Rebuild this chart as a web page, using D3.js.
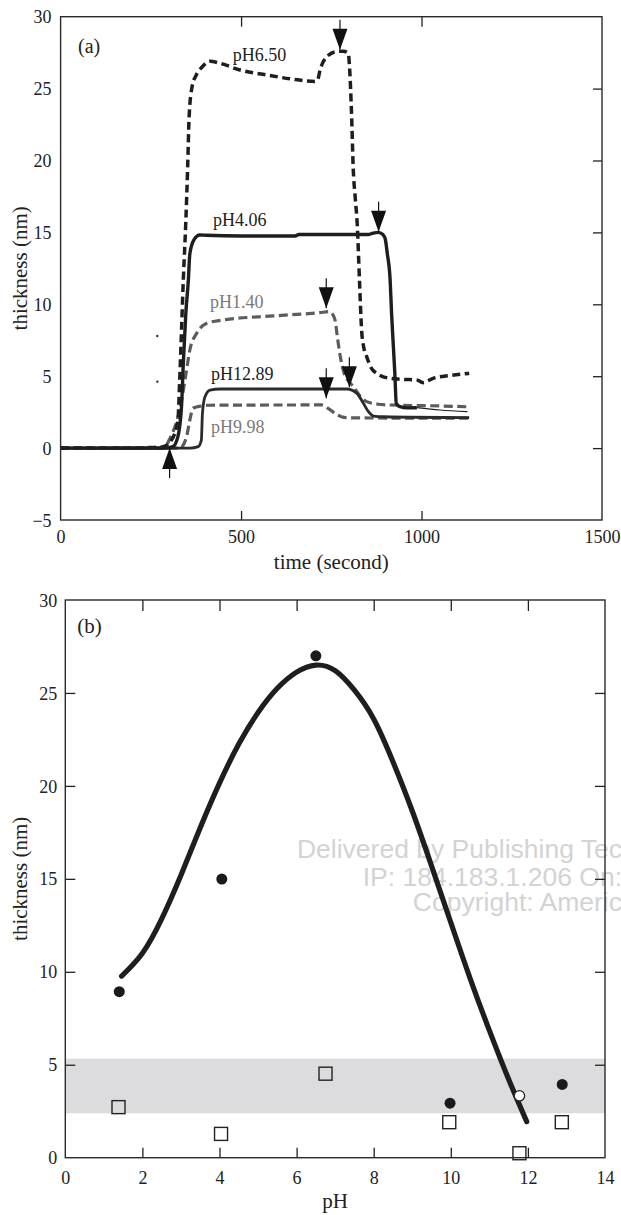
<!DOCTYPE html>
<html>
<head>
<meta charset="utf-8">
<script src="https://cdn.jsdelivr.net/npm/d3@7"></script>
<style>
  html, body { margin: 0; padding: 0; background: #fff; }
  svg { display: block; }
  text { font-family: "Liberation Serif", "Times New Roman", serif; }
</style>
</head>
<body>
<svg id="chart" width="621" height="1215"></svg>
<script>
// ---------- Panel (a): adsorbed layer thickness vs. time ----------
const timeTicks = [0, 500, 1000, 1500];
const thicknessTicksA = [-5, 0, 5, 10, 15, 20, 25, 30];

// [time (s), thickness (nm)]
const tracePH650 = [[0,0],[150,0],[260,0.05],[284,0.1],[307,0.56],[325,1.95],[330,4.74],[335,8.2],[340,11.7],
  [347,15.8],[352,19.5],[356,23.0],[364,25.1],[375,25.9],[392,26.5],[414,26.9],[442,26.76],[497,26.29],
  [571,25.95],[645,25.65],[705,25.5],[712,25.6],[719,26.3],[737,27.2],[764,27.57],[783,27.6],[797,27.45],
  [801,26.3],[806,23.3],[811,19.3],[816,17.5],[822,15.5],[828,11.7],[834,8.2],[840,7.0],[848,6.36],
  [860,5.6],[876,5.2],[913,4.85],[950,4.78],[987,4.74],[1004,4.55],[1032,4.85],[1080,5.05],[1132,5.2]];

const tracePH406 = [[0,0],[290,0],[311,0.1],[325,0.8],[335,2.9],[340,5.9],[347,9.4],[354,11.7],[358,13.5],
  [369,14.47],[386,14.82],[403,14.8],[500,14.75],[650,14.75],[660,14.85],[852,14.85],[866,14.95],[880,15.0],
  [893,14.85],[899,14.59],[905,13.55],[913,11.69],[917,9.37],[922,7.05],[926,5.2],[930,3.11],[940,2.88],
  [960,2.8],[987,2.81]];
const tracePH406Tail = [[987,2.81],[1051,2.65],[1127,2.53]];

const tracePH140 = [[0,0],[270,0],[289,0.1],[303,0.68],[330,2.65],[349,5.43],[358,6.82],[377,7.98],[405,8.68],
  [451,8.91],[589,9.19],[718,9.42],[745,9.49],[759,9.03],[768,7.52],[775,6.36],[785,5.25],[800,4.6],
  [811,4.27],[830,3.6],[848,3.23],[880,3.05],[912,3.0],[1051,2.93],[1132,2.87]];

const tracePH1289 = [[0,0],[359,0],[381,0.1],[390,0.56],[393,2.42],[400,3.57],[414,4.04],[442,4.11],
  [793,4.11],[821,3.81],[839,3.11],[853,2.53],[867,2.23],[894,2.18],[1132,2.12]];

const tracePH998 = [[0,0],[330,0],[349,0.8],[358,1.95],[367,2.77],[391,2.93],[414,2.98],[723,3.0],
  [741,2.77],[760,2.42],[778,2.18],[800,2.1],[1132,2.08]];

// curve labels: text and anchor in data units (time, thickness)
const traceLabelText  = ["pH6.50", "pH4.06", "pH1.40", "pH12.89", "pH9.98"];
const traceLabelTime  = [477, 422, 414, 417, 417];
const traceLabelValue = [26.94, 15.45, 9.72, 4.74, 1.03];

// injection / rinse arrows: tip position in data units
const arrowTime  = [774, 881, 736, 736, 800, 302];
const arrowValue = [27.7, 15.05, 9.72, 3.46, 4.23, 0.0];
const arrowDir   = ["down", "down", "down", "down", "down", "up"];

// isolated specks in the trace area
const speckTime  = [268, 268];
const speckValue = [7.8, 4.62];

// ---------- Panel (b): thickness vs. pH ----------
const pHTicks = [0, 2, 4, 6, 8, 10, 12, 14];
const thicknessTicksB = [0, 5, 10, 15, 20, 25, 30];

const adsorbedPH    = [1.40, 4.06, 6.50, 9.98, 12.89];
const adsorbedThick = [8.93, 14.99, 27.0, 2.93, 3.94];

const openCirclePH    = [11.78];
const openCircleThick = [3.33];

const rinsedPH    = [1.38, 4.04, 6.75, 9.96, 11.78, 12.88];
const rinsedThick = [2.72, 1.28, 4.52, 1.91, 0.24, 1.91];

const bandRange = [2.39, 5.33];

const fitPH    = [1.46, 2.0, 2.5, 3.0, 3.5, 4.0, 4.5, 5.0, 5.5, 6.0, 6.5, 7.0, 7.5, 8.0, 8.5, 9.0, 9.5,
  10.0, 10.5, 11.0, 11.5, 11.97];
const fitThick = [9.77, 11.0, 12.85, 15.2, 17.75, 20.15, 22.25, 23.95, 25.25, 26.12, 26.5, 26.2, 25.15, 23.6,
  21.3, 18.65, 15.7, 12.65, 9.65, 6.85, 4.22, 1.94];

const watermarkLines = ["Delivered by Publishing Tec", "IP: 184.183.1.206 On:", "Copyright: Americ"];

// ================= drawing =================
const svg = d3.select("#chart");
const INK = "#1e1e1e";
const GREY = "#5c5c5c";

// ---- panel (a) ----
const xA = d3.scaleLinear().domain([0, 1500]).range([60.6, 602]);
const yA = d3.scaleLinear().domain([-5, 30]).range([520, 16.7]);
const gA = svg.append("g");

function styleAxis(g, size) {
  g.select(".domain").remove();
  g.selectAll(".tick line").attr("stroke", "#222").attr("stroke-width", 1.3);
  g.selectAll(".tick text").attr("fill", "#222").attr("font-size", size)
    .attr("font-family", "Liberation Serif, serif");
}

// bottom axis with labels, inward ticks only at interior values
const axBA = gA.append("g").attr("transform", `translate(0,${yA(-5)})`)
  .call(d3.axisBottom(xA).tickValues(timeTicks).tickSizeInner(-9).tickSizeOuter(0).tickPadding(10)
    .tickFormat(d3.format("d")));
styleAxis(axBA, 18);
axBA.selectAll(".tick line").filter(d => d === 0 || d === 1500).remove();

const axTA = gA.append("g").attr("transform", `translate(0,${yA(30)})`)
  .call(d3.axisTop(xA).tickValues(timeTicks.filter(d => d > 0 && d < 1500)).tickSizeInner(-10).tickSizeOuter(0).tickFormat(""));
styleAxis(axTA, 18);

const axLA = gA.append("g").attr("transform", `translate(${xA(0)},0)`)
  .call(d3.axisLeft(yA).tickValues(thicknessTicksA).tickSize(0).tickPadding(9));
styleAxis(axLA, 18);
axLA.selectAll(".tick text").attr("dy", "0.34em");

const axRA = gA.append("g").attr("transform", `translate(${xA(1500)},0)`)
  .call(d3.axisRight(yA).tickValues(thicknessTicksA.filter(d => d > -5 && d < 30)).tickSizeInner(-9).tickSizeOuter(0).tickFormat(""));
styleAxis(axRA, 18);

gA.append("rect").attr("x", xA(0)).attr("y", yA(30))
  .attr("width", xA(1500) - xA(0)).attr("height", yA(-5) - yA(30))
  .attr("fill", "none").attr("stroke", "#2a2a2a").attr("stroke-width", 1.4);

const lineA = d3.line().x(d => xA(d[0])).y(d => yA(d[1])).curve(d3.curveMonotoneX);

const traces = [
  { data: tracePH998,  stroke: GREY,   width: 3.2, dash: "9,4.5" },
  { data: tracePH140,  stroke: GREY,   width: 3.2, dash: "9,4.5" },
  { data: tracePH1289, stroke: "#2b2b2b", width: 2.8, dash: null },
  { data: tracePH406,  stroke: INK,    width: 3.4, dash: null },
  { data: tracePH406Tail, stroke: INK, width: 1.2, dash: null },
  { data: tracePH650,  stroke: INK,    width: 3.5, dash: "8,4.5" }
];
traces.forEach(s => {
  gA.append("path").attr("d", lineA(s.data))
    .attr("fill", "none").attr("stroke", s.stroke).attr("stroke-width", s.width)
    .attr("stroke-dasharray", s.dash).attr("stroke-linejoin", "round");
});

gA.selectAll("circle.speck").data(speckTime).join("circle").attr("class", "speck")
  .attr("cx", (d) => xA(d)).attr("cy", (d, i) => yA(speckValue[i])).attr("r", 1.2).attr("fill", "#333");

// arrows
arrowTime.forEach((t, i) => {
  const x = xA(t), tip = yA(arrowValue[i]);
  const s = arrowDir[i] === "down" ? -1 : 1;   // direction toward the tail
  const triH = 21, half = 7.5, stem = 9;
  gA.append("line").attr("x1", x).attr("x2", x)
    .attr("y1", tip + s * (triH + stem)).attr("y2", tip)
    .attr("stroke", "#111").attr("stroke-width", 1.2);
  gA.append("path")
    .attr("d", `M${x - half},${tip + s * triH}L${x + half},${tip + s * triH}L${x},${tip}Z`)
    .attr("fill", "#111");
});

// curve labels
const labelColor = ["#222", "#222", "#7a7a7a", "#222", "#7a7a7a"];
traceLabelText.forEach((txt, i) => {
  gA.append("text").attr("x", xA(traceLabelTime[i])).attr("y", yA(traceLabelValue[i]))
    .attr("font-size", 18).attr("fill", labelColor[i]).text(txt);
});

gA.append("text").attr("x", 78).attr("y", 53.3).attr("font-size", 20).attr("fill", "#222").text("(a)");
gA.append("text").attr("x", (xA(0) + xA(1500)) / 2).attr("y", 569).attr("text-anchor", "middle")
  .attr("font-size", 21).attr("fill", "#222").text("time (second)");
gA.append("text").attr("transform", `translate(27,${(yA(30) + yA(-5)) / 2}) rotate(-90)`)
  .attr("text-anchor", "middle").attr("font-size", 21).attr("fill", "#222").text("thickness (nm)");

// ---- panel (b) ----
const xB = d3.scaleLinear().domain([0, 14]).range([65.3, 605]);
const yB = d3.scaleLinear().domain([0, 30]).range([1157.7, 600]);
const gB = svg.append("g");

// shaded range
gB.append("rect").attr("x", xB(0)).attr("width", xB(14) - xB(0))
  .attr("y", yB(bandRange[1])).attr("height", yB(bandRange[0]) - yB(bandRange[1]))
  .attr("fill", "#dcdcde");

// watermark text, flush with the right edge of the page
const wmY = [858.3, 885.5, 911];
watermarkLines.forEach((t, i) => {
  gB.append("text").attr("x", 622).attr("y", wmY[i]).attr("text-anchor", "end")
    .attr("font-size", 26.5).attr("fill", "#d3d3d3")
    .style("font-family", "'Liberation Sans', Arial, sans-serif").text(t);
});

const inner = pHTicks.filter(d => d > 0 && d < 14);
const innerY = thicknessTicksB.filter(d => d > 0 && d < 30);

const axBB = gB.append("g").attr("transform", `translate(0,${yB(0)})`)
  .call(d3.axisBottom(xB).tickValues(pHTicks).tickSizeInner(-10).tickSizeOuter(0).tickPadding(14));
styleAxis(axBB, 18);
axBB.selectAll(".tick line").filter(d => d === 0 || d === 14).remove();

const axTB = gB.append("g").attr("transform", `translate(0,${yB(30)})`)
  .call(d3.axisTop(xB).tickValues(inner).tickSizeInner(-11).tickSizeOuter(0).tickFormat(""));
styleAxis(axTB, 18);

const axLB = gB.append("g").attr("transform", `translate(${xB(0)},0)`)
  .call(d3.axisLeft(yB).tickValues(thicknessTicksB).tickSizeInner(-10).tickSizeOuter(0).tickPadding(8));
styleAxis(axLB, 18);
axLB.selectAll(".tick line").filter(d => d === 0 || d === 30).remove();
axLB.selectAll(".tick text").attr("dy", "0.34em");

const axRB = gB.append("g").attr("transform", `translate(${xB(14)},0)`)
  .call(d3.axisRight(yB).tickValues(innerY).tickSizeInner(-10).tickSizeOuter(0).tickFormat(""));
styleAxis(axRB, 18);

gB.append("rect").attr("x", xB(0)).attr("y", yB(30))
  .attr("width", xB(14) - xB(0)).attr("height", yB(0) - yB(30))
  .attr("fill", "none").attr("stroke", "#2a2a2a").attr("stroke-width", 1.4);

// fitted curve
const fitLine = d3.line().x((d, i) => xB(fitPH[i])).y((d, i) => yB(fitThick[i])).curve(d3.curveNatural);
gB.append("path").attr("d", fitLine(fitPH))
  .attr("fill", "none").attr("stroke", INK).attr("stroke-width", 5.2).attr("stroke-linecap", "round");

// rinsed (open squares)
const sq = 13;
gB.selectAll("rect.rinsed").data(rinsedPH).join("rect").attr("class", "rinsed")
  .attr("x", d => xB(d) - sq / 2).attr("y", (d, i) => yB(rinsedThick[i]) - sq / 2)
  .attr("width", sq).attr("height", sq)
  .attr("fill", "none").attr("stroke", "#222").attr("stroke-width", 1.4);

// adsorbed (filled circles)
gB.selectAll("circle.ads").data(adsorbedPH).join("circle").attr("class", "ads")
  .attr("cx", d => xB(d)).attr("cy", (d, i) => yB(adsorbedThick[i])).attr("r", 5.5).attr("fill", "#1a1a1a");

gB.selectAll("circle.open").data(openCirclePH).join("circle").attr("class", "open")
  .attr("cx", d => xB(d)).attr("cy", (d, i) => yB(openCircleThick[i])).attr("r", 5.2)
  .attr("fill", "#fff").attr("stroke", "#222").attr("stroke-width", 1.3);

gB.append("text").attr("x", 77.3).attr("y", 633.3).attr("font-size", 21).attr("fill", "#222").text("(b)");
gB.append("text").attr("x", (xB(0) + xB(14)) / 2).attr("y", 1208).attr("text-anchor", "middle")
  .attr("font-size", 21).attr("fill", "#222").text("pH");
gB.append("text").attr("transform", `translate(27,${(yB(30) + yB(0)) / 2}) rotate(-90)`)
  .attr("text-anchor", "middle").attr("font-size", 21).attr("fill", "#222").text("thickness (nm)");
</script>
</body>
</html>
